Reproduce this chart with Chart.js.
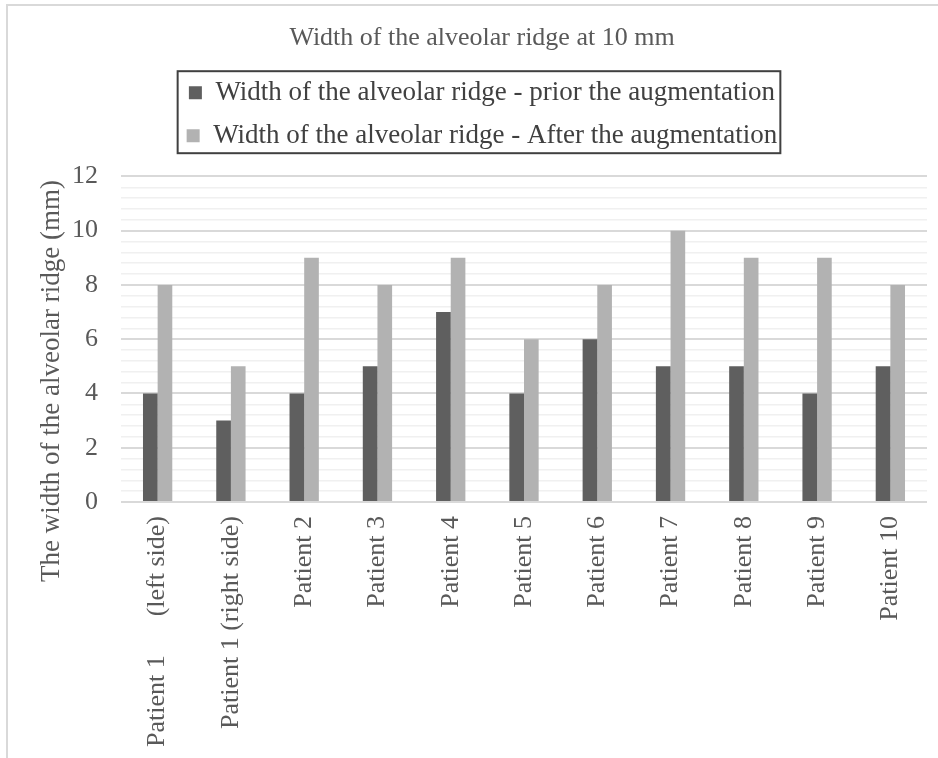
<!DOCTYPE html>
<html>
<head>
<meta charset="utf-8">
<style>
  html, body { margin: 0; padding: 0; background: #fff; overflow: hidden; }
  #wrap { position: relative; width: 938px; height: 758px; }
  #frame { position: absolute; left: 6px; top: 4px; width: 1200px; height: 1200px;
           border: 2px solid #d9d9d9; pointer-events: none; }
</style>
<script src="https://cdn.jsdelivr.net/npm/chart.js@4.4.1/dist/chart.umd.min.js"></script>
</head>
<body>
<div id="wrap">
  <canvas id="ridgeChart" width="938" height="758"></canvas>
  <div id="frame"></div>
</div>
<script>
// data
const patients = [
    'Patient 1      (left side)', 'Patient 1 (right side)', 'Patient 2', 'Patient 3',
    'Patient 4', 'Patient 5', 'Patient 6', 'Patient 7', 'Patient 8', 'Patient 9', 'Patient 10'
];
const priorWidth = [4, 3, 4, 5, 7, 4, 6, 5, 5, 4, 5];
const afterWidth = [8, 5, 9, 8, 9, 6, 8, 10, 9, 9, 8];
const seriesNames = [
    'Width of the alveolar ridge - prior the augmentation',
    'Width of the alveolar ridge - After the augmentation'
];
const yMax = 12;
const yMinorStep = 0.4;

const serif = "'Liberation Serif', 'Times New Roman', serif";

function isMajor(v) {
    return Math.abs(v / 2 - Math.round(v / 2)) < 1e-6;
}

// border round the legend, like the original
const legendBorder = {
    id: 'legendBorder',
    afterDraw(chart) {
        const boxes = chart.legend.legendHitBoxes;
        if (!boxes || !boxes.length) return;
        let left = Infinity, right = -Infinity, top = Infinity, bottom = -Infinity;
        boxes.forEach(b => {
            left = Math.min(left, b.left);
            right = Math.max(right, b.left + b.width);
            top = Math.min(top, b.top);
            bottom = Math.max(bottom, b.top + b.height);
        });
        const ctx = chart.ctx;
        ctx.save();
        ctx.strokeStyle = '#404040';
        ctx.lineWidth = 2;
        ctx.strokeRect(left - 9, top - 8, right - left + 12, bottom - top + 12);
        ctx.restore();
    }
};

// y axis title sits lower than Chart.js would centre it
const yTitle = {
    id: 'yTitle',
    afterDraw(chart) {
        const ctx = chart.ctx;
        ctx.save();
        ctx.translate(52, 381);
        ctx.rotate(-Math.PI / 2);
        ctx.font = '27px ' + serif;
        ctx.fillStyle = '#595959';
        ctx.textAlign = 'center';
        ctx.textBaseline = 'middle';
        ctx.fillText('The width of the alveolar ridge (mm)', 0, 0);
        ctx.restore();
    }
};

const ctx = document.getElementById('ridgeChart').getContext('2d');
new Chart(ctx, {
    type: 'bar',
    data: {
        labels: patients,
        datasets: [{
            label: seriesNames[0],
            data: priorWidth,
            backgroundColor: '#5f5f5f'
        }, {
            label: seriesNames[1],
            data: afterWidth,
            backgroundColor: '#b2b2b2'
        }]
    },
    options: {
        responsive: false,
        animation: false,
        events: [],
        layout: { padding: { left: 37, right: 11, top: 0, bottom: 0 } },
        datasets: { bar: { categoryPercentage: 0.4, barPercentage: 1.0 } },
        plugins: {
            title: {
                display: true,
                text: 'Width of the alveolar ridge at 10 mm',
                color: '#595959',
                font: { family: serif, size: 26, weight: 'normal' },
                padding: { top: 23, bottom: 9 }
            },
            subtitle: {
                display: true,
                text: '',
                weight: 500,
                font: { size: 1 },
                padding: { top: 0, bottom: 16 }
            },
            legend: {
                position: 'top',
                labels: {
                    color: '#404040',
                    font: { family: serif, size: 27 },
                    boxWidth: 13,
                    boxHeight: 13,
                    padding: 16
                }
            },
            tooltip: { enabled: false }
        },
        scales: {
            x: {
                grid: { display: false },
                border: { display: false },
                afterFit: s => { s.height = 256; },
                ticks: {
                    color: '#595959',
                    font: { family: serif, size: 26 },
                    minRotation: 90,
                    maxRotation: 90,
                    autoSkip: false,
                    padding: 6
                }
            },
            y: {
                min: 0,
                max: yMax,
                border: { display: false },
                afterFit: s => { s.width = 84; },
                grid: {
                    drawTicks: false,
                    color: c => isMajor(c.tick.value) ? '#d9d9d9' : '#f0f0f0',
                    lineWidth: c => isMajor(c.tick.value) ? 2 : 1.5
                },
                ticks: {
                    stepSize: yMinorStep,
                    autoSkip: false,
                    color: '#595959',
                    font: { family: serif, size: 26 },
                    padding: 23,
                    callback: v => isMajor(v) ? String(Math.round(v)) : ''
                }
            }
        }
    },
    plugins: [legendBorder, yTitle]
});
</script>
</body>
</html>
